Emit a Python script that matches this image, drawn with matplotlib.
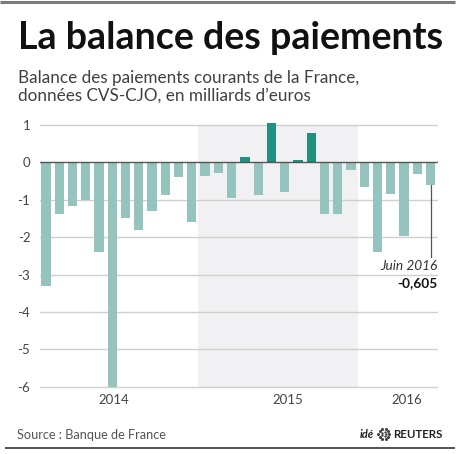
import numpy as np
import matplotlib
matplotlib.use("Agg")
import matplotlib.pyplot as plt

plt.rcParams['font.family'] = ['Lato', 'DejaVu Sans']

# balance des paiements courants, Mds EUR, janv. 2014 - juin 2016
months = ['2014-%02d' % m for m in range(1, 13)] + \
         ['2015-%02d' % m for m in range(1, 13)] + \
         ['2016-%02d' % m for m in range(1, 7)]
values = [-3.30, -1.39, -1.16, -1.01, -2.39, -6.02, -1.48, -1.81, -1.29, -0.87, -0.38, -1.60,
          -0.37, -0.29, -0.96, 0.15, -0.88, 1.04, -0.80, 0.06, 0.78, -1.39, -1.39, -0.21,
          -0.67, -2.41, -0.85, -1.97, -0.31, -0.605]
year_labels = ['2014', '2015', '2016']
year_pos = [5.15, 18.2, 27.2]
yticks = [1, 0, -1, -2, -3, -4, -5, -6]

NEG = '#95c4bf'
POS = '#20907f'
SHADE = '#f1f1f3'

fig = plt.figure(figsize=(4.6, 4.54), dpi=100)

# decoration layer in pixel coords
deco = fig.add_axes([0, 0, 1, 1])
deco.set_xlim(0, 460)
deco.set_ylim(454, 0)
deco.axis('off')
deco.plot([0, 455], [2, 2], color='#7a7a7a', lw=2.2, solid_capstyle='butt')
deco.plot([5, 455], [448, 448], color='#444444', lw=1.3, solid_capstyle='butt')

fig.text(18 / 460, 1 - 49 / 454, 'La balance des paiements', fontsize=27.1,
         fontweight='bold', color='#111111', ha='left', va='baseline')
fig.text(18 / 460, 1 - 83.5 / 454, 'Balance des paiements courants de la France,',
         fontsize=12.3, color='#404040', ha='left', va='baseline')
fig.text(18 / 460, 1 - 101 / 454, 'données CVS-CJO, en milliards d\u2019euros',
         fontsize=12.3, color='#404040', ha='left', va='baseline')

fig.text(17 / 460, 1 - 439 / 454, 'Source : Banque de France', fontsize=9.2,
         color='#555555', ha='left', va='baseline')
fig.text(374 / 460, 1 - 438 / 454, 'idé', fontsize=8, fontweight='bold',
         style='italic', color='#222222', ha='right', va='baseline')
fig.text(393 / 460, 1 - 438 / 454, 'REUTERS', fontsize=8.3, fontweight='bold',
         color='#222222', ha='left', va='baseline')
ang = np.linspace(0, 2 * np.pi, 10, endpoint=False)
deco.scatter(384 + 5.5 * np.cos(ang), 434 + 5.5 * np.sin(ang), s=5, color='#444444', lw=0)
deco.scatter(384 + 2.5 * np.cos(ang[::2]), 434 + 2.5 * np.sin(ang[::2]), s=3, color='#444444', lw=0)

# chart
ax = fig.add_axes([40 / 460, 1 - 388.6 / 454, 398 / 460, (388.6 - 121.2) / 454])
x = np.arange(len(values))
ax.set_xlim(-0.45, 29.56)
ax.set_ylim(-6.05, 1.1)

ax.fill_between([11.5, 23.5], -6, 1, color=SHADE, lw=0, zorder=0)
for t in yticks:
    if t != 0:
        ax.axhline(t, color='#cfcfcf', lw=1, zorder=1)

colors = [POS if v > 0 else NEG for v in values]
ax.bar(x, values, width=0.7, color=colors, zorder=2)
ax.axhline(0, color='#555555', lw=1, zorder=3)

# annotation for last month
ax.plot([x[-1], x[-1]], [values[-1], -2.52], color='#555555', lw=0.9, zorder=3)
ax.text(29.56, -2.78, 'Juin 2016', fontsize=9.8, style='italic', color='#333333',
        ha='right', va='center')
ax.text(29.56, -3.23, '-0,605', fontsize=9.8, fontweight='bold', color='#111111',
        ha='right', va='center')

ax.set_yticks(yticks)
ax.set_yticklabels([str(t) for t in yticks], fontsize=9.5, color='#444444')
ax.set_xticks(year_pos)
ax.set_xticklabels(year_labels, fontsize=9.5, color='#444444')
ax.tick_params(axis='both', length=0)
ax.tick_params(axis='y', pad=7)
ax.tick_params(axis='x', pad=4)
for s in ax.spines.values():
    s.set_visible(False)
ax.patch.set_alpha(0)

fig.savefig('out.png', dpi=100)
